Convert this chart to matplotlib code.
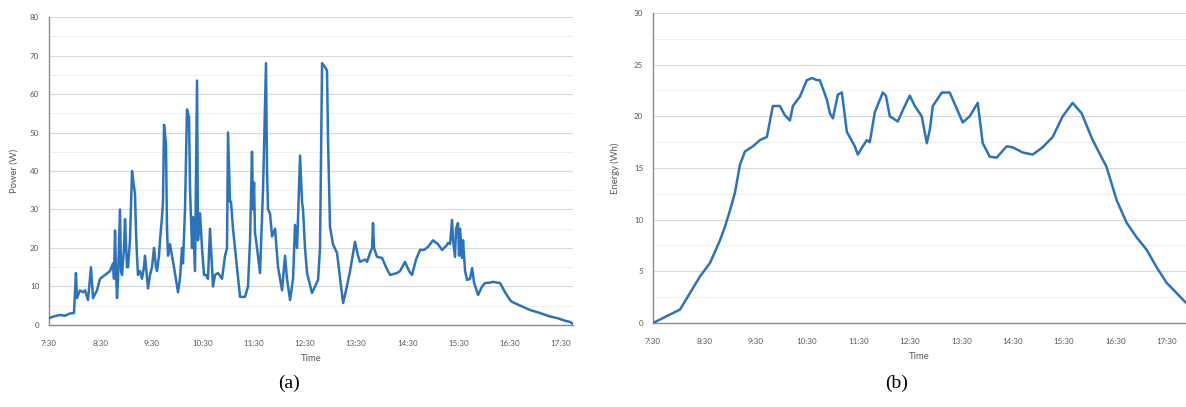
import matplotlib
matplotlib.use("Agg")
import matplotlib.pyplot as plt
from matplotlib.ticker import FixedLocator, FuncFormatter, MultipleLocator

# ---- (a) instantaneous power, minutes after midnight ----
power_minutes = [
    450.0, 457.0, 462.9, 468.8, 474.6, 479.3, 481.6, 482.8, 486.3, 489.8,
    492.2, 495.7, 499.2, 501.6, 506.3, 509.8, 515.6, 521.5, 525.0, 526.2,
    527.4, 528.5, 529.7, 530.9, 533.2, 534.4, 535.6, 537.9, 539.1, 541.4,
    542.6, 544.9, 547.3, 548.4, 550.8, 552.0, 553.1, 554.3, 556.7, 559.0,
    561.3, 562.5, 564.9, 566.0, 568.4, 570.7, 573.1, 575.4, 576.6, 578.9,
    580.1, 582.4, 583.6, 584.8, 587.1, 588.3, 589.5, 591.8, 594.2, 596.5,
    601.2, 603.5, 605.9, 607.0, 609.4, 611.7, 614.1, 615.3, 617.6, 618.8,
    621.1, 623.5, 624.6, 627.0, 629.3, 631.7, 634.0, 636.3, 638.7, 641.0,
    642.2, 644.6, 648.1, 652.8, 656.3, 658.6, 659.8, 662.1, 663.3, 665.6,
    670.3, 673.9, 679.7, 683.2, 685.6, 687.9, 689.1, 690.3, 691.4, 693.8,
    697.3, 700.8, 704.3, 705.5, 706.7, 709.0, 711.4, 714.9, 718.4, 723.1,
    726.6, 728.9, 732.5, 736.0, 738.3, 740.7, 744.2, 746.5, 747.7, 750.0,
    752.4, 758.2, 765.3, 767.6, 770.0, 773.5, 775.8, 777.0, 779.3, 782.8,
    787.5, 791.1, 794.6, 798.1, 802.8, 808.6, 812.1, 814.5, 820.4, 822.7,
    826.2, 828.6, 829.7, 830.9, 834.4, 840.3, 845.0, 849.7, 857.9, 861.4,
    867.2, 871.9, 875.4, 880.1, 884.8, 889.5, 894.2, 900.0, 905.9, 910.6,
    915.3, 917.6, 920.0, 922.3, 923.5, 925.8, 927.0, 929.3, 930.5, 931.7,
    934.0, 935.2, 937.6, 939.9, 943.4, 945.8, 948.1, 952.8, 957.5, 961.0,
    966.9, 970.4, 975.1, 978.6, 984.4, 990.3, 992.6, 998.5, 1005.5, 1013.7,
    1025.5, 1037.2, 1045.4, 1054.8, 1060.6, 1064.1,
]
power_w = [
    1.8, 2.3, 2.6, 2.4, 3.0, 3.1, 13.5, 7.0, 9.0, 8.5,
    9.0, 6.5, 15.0, 7.0, 9.0, 12.0, 13.0, 14.0, 16.0, 12.0,
    24.5, 14.0, 7.0, 12.0, 30.0, 14.0, 13.0, 20.0, 27.5, 15.0,
    15.0, 22.0, 40.0, 38.0, 34.0, 24.0, 18.0, 13.0, 14.0, 12.0,
    15.0, 18.0, 12.0, 9.5, 13.0, 15.0, 20.0, 15.0, 14.0, 18.0,
    22.0, 28.0, 32.0, 52.0, 47.0, 25.0, 18.0, 21.0, 18.0, 15.0,
    8.5, 12.0, 20.0, 16.0, 30.0, 56.0, 54.0, 35.0, 20.0, 28.0,
    14.0, 63.5, 22.0, 29.0, 20.0, 13.0, 13.0, 12.0, 25.0, 15.0,
    10.0, 13.0, 13.5, 12.0, 18.0, 20.0, 50.0, 32.0, 32.0, 25.0,
    15.0, 7.3, 7.3, 10.0, 22.0, 45.0, 30.0, 37.0, 24.0, 20.0,
    13.5, 35.0, 68.0, 40.0, 30.0, 29.0, 23.0, 25.0, 15.0, 9.0,
    18.0, 12.0, 6.5, 12.0, 26.0, 20.0, 44.0, 32.0, 30.0, 20.0,
    13.5, 8.3, 11.7, 20.0, 68.0, 67.0, 66.0, 48.0, 25.5, 21.0,
    18.7, 12.0, 5.7, 9.0, 14.0, 21.6, 18.0, 16.4, 17.0, 16.4,
    18.7, 20.0, 26.5, 20.0, 17.7, 17.4, 15.0, 13.0, 13.5, 14.0,
    16.4, 14.0, 13.0, 17.0, 19.5, 19.5, 20.3, 22.0, 21.0, 19.5,
    20.5, 21.3, 21.0, 27.3, 22.0, 17.7, 25.0, 26.5, 18.0, 25.0,
    17.4, 22.0, 14.0, 11.7, 12.0, 14.8, 11.0, 7.8, 10.0, 10.9,
    11.0, 11.2, 11.0, 10.9, 8.5, 6.5, 6.0, 5.4, 4.7, 3.9,
    3.1, 2.2, 1.8, 1.1, 0.8, 0.3,
]

# ---- (b) energy, minutes after midnight ----
energy_minutes = [
    450.0, 481.5, 493.2, 504.8, 516.5, 528.2, 534.0, 539.9, 545.7, 551.5,
    557.4, 566.7, 574.9, 583.0, 590.0, 598.2, 604.0, 609.9, 613.4, 621.5,
    629.7, 635.6, 641.4, 644.9, 653.1, 656.6, 660.1, 665.9, 670.6, 676.4,
    685.7, 689.2, 695.1, 699.7, 703.2, 709.1, 718.4, 722.0, 726.6, 735.9,
    741.8, 749.9, 755.8, 763.9, 769.8, 773.3, 776.8, 787.3, 796.6, 811.8,
    819.9, 829.3, 835.1, 843.3, 851.4, 863.1, 870.1, 881.8, 893.5, 905.1,
    916.8, 928.5, 940.1, 950.6, 963.5, 979.8, 991.5, 1003.2, 1014.8, 1026.5,
    1038.2, 1049.8, 1061.5, 1072.0,
]
energy_wh = [
    0.0, 1.3, 2.9, 4.5, 5.8, 8.0, 9.3, 10.9, 12.6, 15.3,
    16.6, 17.1, 17.7, 18.0, 21.0, 21.0, 20.1, 19.6, 21.0, 21.9,
    23.5, 23.7, 23.5, 23.5, 21.6, 20.3, 19.8, 22.1, 22.3, 18.5,
    17.1, 16.3, 17.1, 17.7, 17.5, 20.4, 22.3, 22.0, 20.0, 19.5,
    20.6, 22.0, 21.0, 20.0, 17.4, 18.7, 21.0, 22.3, 22.3, 19.4,
    20.0, 21.3, 17.4, 16.1, 16.0, 17.1, 17.0, 16.5, 16.3, 17.0,
    18.0, 20.0, 21.3, 20.3, 17.7, 15.1, 11.9, 9.7, 8.3, 7.1,
    5.4, 3.9, 2.9, 2.0,
]

tick_minutes = [450, 510, 570, 630, 690, 750, 810, 870, 930, 990, 1050]

LINE = "#2b74bd"
GRID = "#d9d9d9"
MINOR = "#efefef"
TEXT = "#595959"
plt.rcParams["font.family"] = ["Lato", "DejaVu Sans"]


def hhmm(v, _pos=None):
    v = int(round(v))
    return f"{v // 60}:{v % 60:02d}"


def style(ax, ymax, ystep, xmax):
    ax.set_xlim(450, xmax)
    ax.set_ylim(0, ymax)
    ax.xaxis.set_major_locator(FixedLocator(tick_minutes))
    ax.xaxis.set_major_formatter(FuncFormatter(hhmm))
    ax.yaxis.set_major_locator(MultipleLocator(ystep))
    ax.yaxis.set_minor_locator(MultipleLocator(ystep / 2))
    ax.grid(axis="y", which="major", color=GRID, lw=0.8, zorder=0)
    ax.grid(axis="y", which="minor", color=MINOR, lw=0.7, zorder=0)
    for s in ("top", "right"):
        ax.spines[s].set_visible(False)
    for s in ("left", "bottom"):
        ax.spines[s].set_color("#8c8c8c")
        ax.spines[s].set_linewidth(1.0)
    ax.tick_params(axis="y", which="both", length=0, labelsize=5.8,
                   labelcolor=TEXT, pad=7)
    ax.tick_params(axis="x", which="both", length=0, labelsize=5.8,
                   labelcolor=TEXT, pad=11)
    ax.set_xlabel("Time", fontsize=6.8, color=TEXT, labelpad=5)


fig = plt.figure(figsize=(11.86, 4.07), dpi=100)

ax1 = fig.add_axes([0.0413, 0.2015, 0.4418, 0.7567])
ax1.plot(power_minutes, power_w, color=LINE, lw=1.8, solid_joinstyle="round", zorder=3)
style(ax1, 80, 10, 1064)
ax1.set_ylabel("Power (W)", fontsize=6.8, color=TEXT, labelpad=8)

ax2 = fig.add_axes([0.5506, 0.2064, 0.4490, 0.7617])
ax2.plot(energy_minutes, energy_wh, color=LINE, lw=1.8, solid_joinstyle="round", zorder=3)
style(ax2, 30, 5, 1072)
ax2.set_ylabel("Energy (Wh)", fontsize=6.8, color=TEXT, labelpad=10)

fig.text(289 / 1186, 1 - 383 / 407, "(a)", ha="center", va="center",
         fontsize=14, family="Liberation Serif", color="black")
fig.text(897 / 1186, 1 - 383 / 407, "(b)", ha="center", va="center",
         fontsize=14, family="Liberation Serif", color="black")

fig.savefig("out.png", dpi=100, facecolor="white")
